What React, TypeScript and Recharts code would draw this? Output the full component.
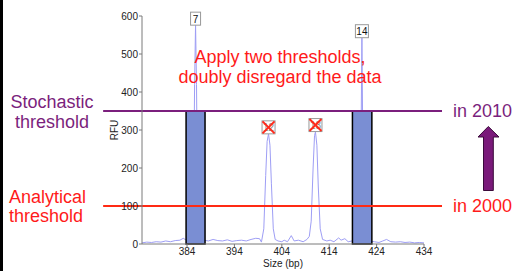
import React from "react";
import {
  ComposedChart,
  Line,
  Scatter,
  XAxis,
  YAxis,
  ReferenceArea,
  ReferenceLine,
} from "recharts";

// electropherogram trace (size in bp, height in RFU)
const traceSizes = [
  374.5, 375.5, 376.5, 377.5, 378.5, 379.5, 380.5, 381.5, 382.5, 383.2, 383.6, 384.2, 385.0, 385.4, 385.6, 385.8,
  386.0, 386.2, 386.6, 387.5, 388.5, 389.5, 390.5, 391.5, 392.5, 393.5, 394.5, 395.5, 396.5, 397.5, 398.5, 399.3,
  399.7, 400.2, 400.6, 400.9, 401.2, 401.5, 401.8, 402.2, 402.6, 403.2, 404.0, 404.5, 405.2, 406.0, 406.6, 407.5,
  408.5, 409.3, 409.8, 410.2, 410.6, 410.9, 411.1, 411.4, 411.7, 412.1, 412.6, 413.5, 414.2, 415.0, 416.0, 416.5,
  417.3, 418.0, 418.8, 419.5, 420.5, 420.7, 420.9, 421.1, 421.4, 422.5, 423.5, 424.5, 425.3, 426.1, 427.0, 428.0,
  429.0, 430.0, 431.0, 432.0, 433.0, 434.0,
];
const traceRfu = [
  3, 5, 4, 6, 5, 8, 6, 9, 10, 15, 12, 10, 20, 150, 420, 578,
  420, 150, 20, 10, 8, 12, 9, 8, 11, 7, 9, 10, 8, 12, 15, 14,
  5, 40, 180, 270, 290, 260, 160, 40, 12, 8, 6, 10, 6, 22, 8, 10,
  6, 12, 20, 60, 200, 285, 295, 260, 150, 40, 12, 8, 10, 6, 16, 10,
  14, 6, 8, 10, 20, 250, 542, 250, 20, 8, 6, 4, 8, 12, 6, 5,
  6, 4, 5, 3, 4, 3,
];

const sizeTicks = [384, 394, 404, 414, 424, 434];
const rfuTicks = [0, 100, 200, 300, 400, 500, 600];

// allele bins
const binStarts = [383.8, 418.9];
const binEnds = [387.8, 423.0];
const binTop = 350;

// peak labels
const labelSizes = [385.8, 401.2, 411.1, 420.9];
const labelRfu = [593, 307, 313, 560];
const labelTexts = ["7", "12", "13", "14"];
const labelRejected = [false, true, true, false];

const stochasticThreshold = 350;
const analyticalThreshold = 100;
const thresholdFrom = 366.3;
const thresholdTo = 437.8;

const trace = traceSizes.map((size, i) => ({ size, rfu: traceRfu[i] }));
const peakLabels = labelSizes.map((size, i) => ({
  size,
  rfu: labelRfu[i],
  text: labelTexts[i],
  rejected: labelRejected[i],
}));

const FONT = "'Liberation Sans', Arial, sans-serif";
const PURPLE = "#7B1F7D";
const RED = "#FF1A1A";
const AXIS = "#7a7a7a";

const PeakLabel = (props: any) => {
  const { cx, cy, payload } = props;
  const w = payload.text.length > 1 ? 13 : 10;
  const h = 13;
  return (
    <g>
      <rect x={cx - w / 2} y={cy - h / 2} width={w} height={h} fill="#fff" stroke="#999" strokeWidth={1} />
      <text x={cx} y={cy + 4} textAnchor="middle" fontSize={10} fontFamily={FONT} fill={payload.rejected ? "#888" : "#111"}>
        {payload.text}
      </text>
      {payload.rejected && (
        <g stroke="#FF2A1A" strokeWidth={2}>
          <line x1={cx - 6} y1={cy - 6} x2={cx + 6} y2={cy + 6} />
          <line x1={cx + 6} y1={cy - 6} x2={cx - 6} y2={cy + 6} />
        </g>
      )}
    </g>
  );
};

const tickStyle = { fontSize: 10, fill: "#222", fontFamily: FONT };

export default function App() {
  return (
    <div style={{ position: "absolute", left: 0, top: 0, width: 516, height: 271, background: "#fff" }}>
      <ComposedChart width={516} height={271} margin={{ top: 16, right: 92, bottom: 7, left: 112 }}>
        <XAxis
          dataKey="size"
          type="number"
          domain={[374.5, 434]}
          ticks={sizeTicks}
          allowDataOverflow
          height={20}
          tickSize={3}
          tickMargin={1}
          stroke={AXIS}
          tick={tickStyle}
        />
        <XAxis
          xAxisId="top"
          type="number"
          orientation="top"
          domain={[374.5, 434]}
          ticks={sizeTicks}
          height={0}
          mirror
          tickSize={3}
          tickFormatter={() => ""}
          stroke={AXIS}
        />
        <YAxis
          type="number"
          domain={[0, 600]}
          ticks={rfuTicks}
          width={30}
          tickSize={3}
          tickMargin={1}
          stroke={AXIS}
          tick={tickStyle}
        />
        <YAxis
          yAxisId="right"
          orientation="right"
          type="number"
          domain={[0, 600]}
          ticks={rfuTicks}
          width={0}
          mirror
          tickSize={3}
          tickFormatter={() => ""}
          stroke={AXIS}
        />
        <Line
          data={trace}
          dataKey="rfu"
          type="linear"
          stroke="#9E9EF5"
          strokeWidth={1}
          dot={false}
          isAnimationActive={false}
        />
        {binStarts.map((from, i) => (
          <ReferenceArea
            key={i}
            x1={from}
            x2={binEnds[i]}
            y1={0}
            y2={binTop}
            fill="#7A8ED3"
            fillOpacity={1}
            stroke="#000"
            strokeWidth={1.5}
            zIndex={450}
          />
        ))}
        <ReferenceLine
          segment={[
            { x: thresholdFrom, y: stochasticThreshold },
            { x: thresholdTo, y: stochasticThreshold },
          ]}
          ifOverflow="visible"
          stroke={PURPLE}
          strokeWidth={2}
          zIndex={460}
        />
        <ReferenceLine
          segment={[
            { x: thresholdFrom, y: analyticalThreshold },
            { x: thresholdTo, y: analyticalThreshold },
          ]}
          ifOverflow="visible"
          stroke="#FF2A14"
          strokeWidth={2}
          zIndex={460}
        />
        <Scatter data={peakLabels} dataKey="rfu" shape={PeakLabel} isAnimationActive={false} />
      </ComposedChart>

      <svg
        width={516}
        height={271}
        style={{ position: "absolute", left: 0, top: 0, pointerEvents: "none" }}
        fontFamily={FONT}
      >
        <rect x={0} y={0} width={3} height={271} fill="#000" />
        <text x={115} y={130} fontSize={10} fill="#222" textAnchor="middle" transform="rotate(-90 115 130)" dy={3}>
          RFU
        </text>
        <text x={283} y={267} fontSize={10} fill="#222" textAnchor="middle">
          Size (bp)
        </text>
        <text x={280} y={63} fontSize={18} fill={RED} textAnchor="middle">
          Apply two thresholds,
        </text>
        <text x={280} y={83} fontSize={18} fill={RED} textAnchor="middle">
          doubly disregard the data
        </text>
        <text x={52} y={108} fontSize={18} fill={PURPLE} textAnchor="middle">
          Stochastic
        </text>
        <text x={52} y={128} fontSize={18} fill={PURPLE} textAnchor="middle">
          threshold
        </text>
        <text x={9} y={203} fontSize={18} fill={RED}>
          Analytical
        </text>
        <text x={9} y={222} fontSize={18} fill={RED}>
          threshold
        </text>
        <text x={453} y={117} fontSize={18} fill={PURPLE}>
          in 2010
        </text>
        <text x={453} y={212} fontSize={18} fill={RED}>
          in 2000
        </text>
        <path
          d="M483.5,190.5 L483.5,137 L478,137 L488.3,126.5 L499,137 L493.3,137 L493.3,190.5 Z"
          fill="#7A1A7A"
          stroke="#3a0a3a"
          strokeWidth={1}
        />
      </svg>
    </div>
  );
}
